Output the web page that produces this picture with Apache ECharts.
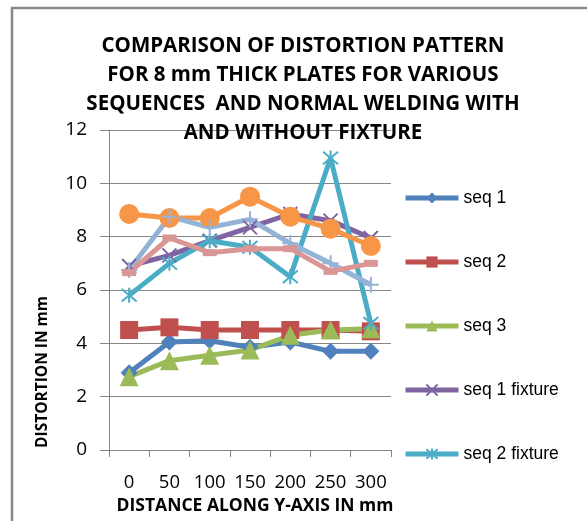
<!DOCTYPE html>
<html>
<head>
<meta charset="utf-8">
<script src="https://cdn.jsdelivr.net/npm/echarts@6/dist/echarts.min.js"></script>
<style>
html,body{margin:0;padding:0;background:#fff;}
#chart{width:587px;height:521px;}
</style>
</head>
<body>
<div id="chart"></div>
<script>
var categories = ['0', '50', '100', '150', '200', '250', '300'];
var yTicks = [0, 2, 4, 6, 8, 10, 12];
var seq1 = [2.9, 4.05, 4.1, 3.85, 4.05, 3.7, 3.7];
var seq2 = [4.5, 4.6, 4.5, 4.5, 4.5, 4.5, 4.45];
var seq3 = [2.75, 3.35, 3.55, 3.75, 4.3, 4.5, 4.55];
var seq1Fixture = [6.9, 7.3, 7.85, 8.35, 8.85, 8.6, 7.95];
var seq2Fixture = [5.8, 7.0, 7.85, 7.6, 6.5, 10.95, 4.75];
var seq3Fixture = [8.85, 8.7, 8.7, 9.5, 8.75, 8.3, 7.65];
var normalFixture = [6.75, 8.75, 8.35, 8.65, 7.75, 7.0, 6.2];
var normalWelding = [6.65, 7.95, 7.4, 7.55, 7.55, 6.7, 7.0];
var titleLines = ['COMPARISON OF DISTORTION PATTERN', 'FOR 8 mm THICK PLATES FOR VARIOUS', 'SEQUENCES  AND NORMAL WELDING WITH', 'AND WITHOUT FIXTURE'];
var xTitle = 'DISTANCE ALONG Y-AXIS IN mm';
var yTitle = 'DISTORTION IN mm';
var legendNames = ['seq 1', 'seq 2', 'seq 3', 'seq 1 fixture', 'seq 2 fixture'];

var chart = echarts.init(document.getElementById('chart'), null, {renderer: 'canvas'});

function mk(name, data, color, symbol, size, stroke) {
  var s = {
    name: name, type: 'line', data: data,
    symbol: symbol, symbolSize: size,
    showAllSymbol: true,
    lineStyle: {color: color, width: 5},
    itemStyle: {color: color},
    emphasis: {disabled: true},
    animation: false
  };
  if (stroke) {
    s.itemStyle = {color: 'rgba(0,0,0,0)', borderColor: color, borderWidth: 2};
  }
  return s;
}
var X = 'path://M0,0L10,10M10,0L0,10';
var AST = 'path://M0,0L10,10M10,0L0,10M5,-1L5,11';
var PLUS = 'path://M5,0L5,10M0,5L10,5';

var option = {
  backgroundColor: '#fff',
  animation: false,
  title: {
    text: titleLines.join('\n'),
    left: 298, top: 27, textAlign: 'center',
    textStyle: {fontFamily: 'Open Sans', fontWeight: 'bold', fontSize: 20.5, lineHeight: 29, color: '#000'}
  },
  legend: {
    data: legendNames,
    orient: 'vertical', left: 398, top: 183,
    itemWidth: 53, itemHeight: 14, itemGap: 44,
    lineStyle: {width: 5},
    textStyle: {fontFamily: 'Liberation Sans', fontSize: 17.5, lineHeight: 20, color: '#000'}
  },
  grid: {left: 109, right: 196, top: 130, bottom: 71, containLabel: false},
  xAxis: {
    type: 'category', data: categories, boundaryGap: true,
    axisLine: {lineStyle: {color: '#868686', width: 1}},
    axisTick: {show: true, length: 7, lineStyle: {color: '#868686'}},
    axisLabel: {margin: 23, fontFamily: 'Open Sans', fontSize: 18.5, color: '#000', interval: 0}
  },
  yAxis: {
    type: 'value', min: 0, max: 12, interval: 2,
    axisLine: {show: true, lineStyle: {color: '#868686', width: 1}},
    axisTick: {show: true, length: 9, lineStyle: {color: '#868686'}},
    splitLine: {lineStyle: {color: '#868686', width: 1}},
    axisLabel: {margin: 22, fontFamily: 'Open Sans', fontSize: 19, color: '#000'}
  },
  graphic: [
    {type: 'rect', shape: {x: 12, y: 8, width: 700, height: 700}, style: {fill: 'none', stroke: '#898989', lineWidth: 2.5}, z: 100, silent: true},
    {type: 'text', x: 255, y: 506, style: {text: xTitle, x: 0, y: 0, textAlign: 'center', textVerticalAlign: 'middle', fontFamily: 'Open Sans', fontWeight: 'bold', fontSize: 17.5, fill: '#000'}, z: 100},
    {type: 'text', rotation: Math.PI / 2, x: 43, y: 372, style: {text: yTitle, x: 0, y: 0, textAlign: 'center', textVerticalAlign: 'middle', fontFamily: 'Open Sans', fontWeight: 'bold', fontSize: 15.5, fill: '#000'}, z: 100}
  ],
  series: [
    mk('seq 1', seq1, '#4F81BD', 'diamond', 17),
    mk('seq 2', seq2, '#C0504D', 'rect', 18),
    mk('seq 3', seq3, '#9BBB59', 'triangle', 19),
    mk('seq 1 fixture', seq1Fixture, '#8064A2', X, 14, true),
    mk('seq 2 fixture', seq2Fixture, '#4BACC6', AST, 15, true),
    mk('seq 3 fixture', seq3Fixture, '#F79646', 'circle', 20),
    mk('normal welding with fixture', normalFixture, '#95B3D7', PLUS, 16, true),
    mk('normal welding', normalWelding, '#D99694', 'rect', [14, 7])
  ]
};
chart.setOption(option);
</script>
</body>
</html>
